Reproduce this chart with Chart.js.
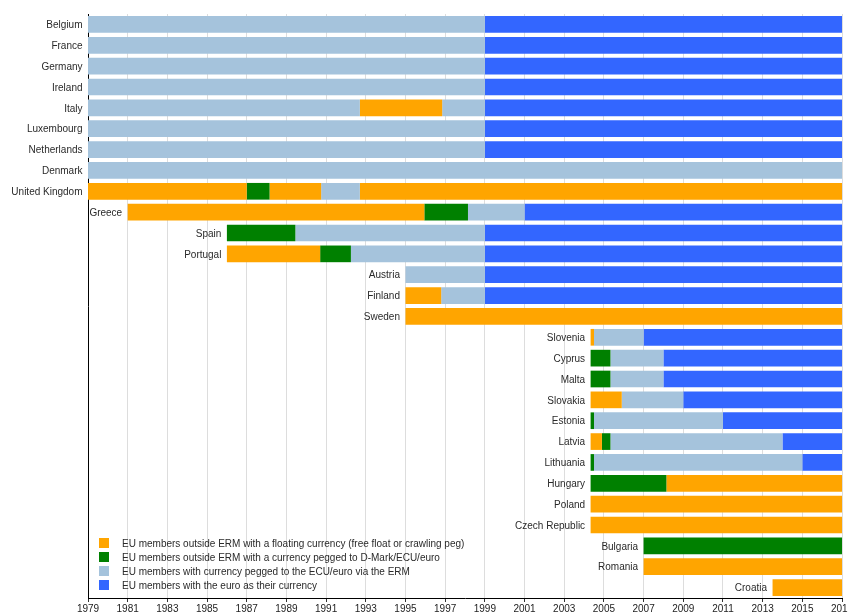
<!DOCTYPE html>
<html>
<head>
<meta charset="utf-8">
<script src="https://cdn.jsdelivr.net/npm/chart.js@4"></script>
<style>
  html, body { margin: 0; padding: 0; background: #fff; overflow: hidden; }
  #wrap { width: 848px; height: 613px; }
</style>
</head>
<body>
<div id="wrap"><canvas id="c" width="848" height="613"></canvas></div>
<script>
// ---- data ----
const countries = ["Belgium","France","Germany","Ireland","Italy","Luxembourg","Netherlands","Denmark","United Kingdom","Greece","Spain","Portugal","Austria","Finland","Sweden","Slovenia","Cyprus","Malta","Slovakia","Estonia","Latvia","Lithuania","Hungary","Poland","Czech Republic","Bulgaria","Romania","Croatia"];
// boundary years of each country's successive periods
const boundaries = [
  [1979, 1999, 2017],
  [1979, 1999, 2017],
  [1979, 1999, 2017],
  [1979, 1999, 2017],
  [1979, 1992.7, 1996.85, 1999, 2017],
  [1979, 1999, 2017],
  [1979, 1999, 2017],
  [1979, 2017],
  [1979, 1987, 1988.15, 1990.75, 1992.7, 2017],
  [1981, 1995.95, 1998.15, 2001, 2017],
  [1986, 1989.45, 1999, 2017],
  [1986, 1990.7, 1992.25, 1999, 2017],
  [1995, 1999, 2017],
  [1995, 1996.8, 1999, 2017],
  [1995, 2017],
  [2004.33, 2004.5, 2007, 2017],
  [2004.33, 2005.33, 2008, 2017],
  [2004.33, 2005.33, 2008, 2017],
  [2004.33, 2005.9, 2009, 2017],
  [2004.33, 2004.5, 2011, 2017],
  [2004.33, 2004.9, 2005.33, 2014, 2017],
  [2004.33, 2004.5, 2015, 2017],
  [2004.33, 2008.15, 2017],
  [2004.33, 2017],
  [2004.33, 2017],
  [2007, 2017],
  [2007, 2017],
  [2013.5, 2017]
];
// status of each period: F = floating, P = pegged outside ERM, E = in ERM, U = euro
const phases = [
  ["E","U"],["E","U"],["E","U"],["E","U"],
  ["E","F","E","U"],
  ["E","U"],["E","U"],
  ["E"],
  ["F","P","F","E","F"],
  ["F","P","E","U"],
  ["P","E","U"],
  ["F","P","E","U"],
  ["E","U"],
  ["F","E","U"],
  ["F"],
  ["F","E","U"],
  ["P","E","U"],
  ["P","E","U"],
  ["F","E","U"],
  ["P","E","U"],
  ["F","P","E","U"],
  ["P","E","U"],
  ["P","F"],
  ["F"],
  ["F"],
  ["P"],
  ["F"],
  ["F"]
];
const statusKeys = ["F","P","E","U"];
const statusLabels = [
  "EU members outside ERM with a floating currency (free float or crawling peg)",
  "EU members outside ERM with a currency pegged to D-Mark/ECU/euro",
  "EU members with currency pegged to the ECU/euro via the ERM",
  "EU members with the euro as their currency"
];
const xTickYears = [1979,1981,1983,1985,1987,1989,1991,1993,1995,1997,1999,2001,2003,2005,2007,2009,2011,2013,2015,2017];

// ---- styles ----
const statusColors = { F: "#FFA500", P: "#008000", E: "#A5C3DC", U: "#3366FF" };
const FONT = "Liberation Sans, Arial, sans-serif";

// ---- build datasets: one per period rank ----
const maxSeg = Math.max(...phases.map(p => p.length));
const datasets = [];
for (let k = 0; k < maxSeg; k++) {
  datasets.push({
    label: "seg" + k,
    data: boundaries.map((b, i) => (k < phases[i].length ? [b[k], b[k + 1]] : null)),
    backgroundColor: phases.map(p => (k < p.length ? statusColors[p[k]] : "rgba(0,0,0,0)")),
    borderWidth: 0,
    borderSkipped: false,
    grouped: false,
    barPercentage: 0.8,
    categoryPercentage: 1.0
  });
}

const countryLabels = {
  id: "countryLabels",
  afterDatasetsDraw(chart) {
    const { ctx, scales: { x, y } } = chart;
    ctx.save();
    ctx.font = "10px " + FONT;
    ctx.fillStyle = "#2a2a2a";
    ctx.textAlign = "right";
    ctx.textBaseline = "middle";
    countries.forEach((name, i) => {
      ctx.fillText(name, x.getPixelForValue(boundaries[i][0]) - 5.5, y.getPixelForValue(i) + 1);
    });
    ctx.restore();
  }
};

const innerLegend = {
  id: "innerLegend",
  afterDraw(chart) {
    const { ctx, chartArea } = chart;
    ctx.save();
    ctx.font = "10px " + FONT;
    ctx.textBaseline = "middle";
    ctx.textAlign = "left";
    const left = chartArea.left + 11;
    const rowH = 14;
    const top = chartArea.bottom - 55;
    statusKeys.forEach((k, j) => {
      const cy = top + j * rowH;
      ctx.fillStyle = statusColors[k];
      ctx.fillRect(left, cy - 5, 10, 10);
      ctx.fillStyle = "#2a2a2a";
      ctx.fillText(statusLabels[j], left + 23, cy + 1);
    });
    ctx.restore();
  }
};

new Chart(document.getElementById("c"), {
  type: "bar",
  data: { labels: countries, datasets },
  options: {
    indexAxis: "y",
    responsive: false,
    animation: false,
    devicePixelRatio: 1,
    layout: { padding: { top: 14, right: 6, left: 0, bottom: 0 } },
    plugins: { legend: { display: false }, tooltip: { enabled: false }, title: { display: false } },
    scales: {
      x: {
        type: "linear",
        position: "bottom",
        min: 1979,
        max: 2017,
        afterBuildTicks(s) { s.ticks = xTickYears.map(v => ({ value: v })); },
        ticks: {
          autoSkip: false,
          maxRotation: 0,
          padding: 1,
          color: "#222",
          font: { family: FONT, size: 10 },
          callback: v => String(v)
        },
        grid: { color: "#dddddd", tickColor: "#333", tickLength: 4, lineWidth: 1 },
        border: { color: "#000", width: 1 },
        afterFit(s) { s.paddingLeft = 0; s.paddingRight = 0; s.height = 15; }
      },
      y: {
        type: "category",
        ticks: { display: false },
        grid: { display: false },
        border: { color: "#000", width: 1 },
        afterFit(s) { s.width = 88; }
      }
    }
  },
  plugins: [countryLabels, innerLegend]
});
</script>
</body>
</html>
